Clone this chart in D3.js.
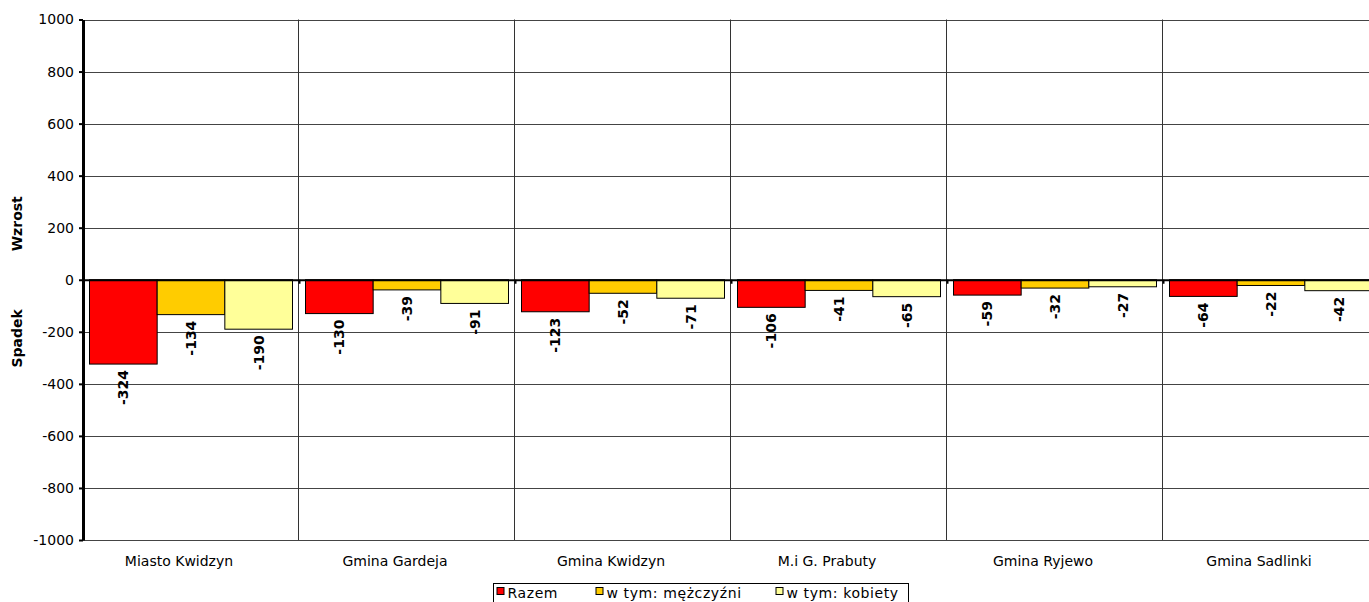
<!DOCTYPE html>
<html>
  <head>
    <meta charset="utf-8" />
    <title>Wzrost / Spadek</title>
    <style>
      body { margin: 0; background: #fff; overflow: hidden; }
      text { font-family: Verdana, "DejaVu Sans", sans-serif; }
      .tick text { font-size: 14px; fill: #000; }
    </style>
  </head>
  <body>
    <div id="chart"></div>

    <script src="https://d3js.org/d3.v7.min.js"></script>
    <script>
      // data
      var categories = ["Miasto Kwidzyn", "Gmina Gardeja", "Gmina Kwidzyn", "M.i G. Prabuty", "Gmina Ryjewo", "Gmina Sadlinki"];
      var seriesNames = ["Razem", "w tym: mężczyźni", "w tym: kobiety"];
      var razem = [-324, -130, -123, -106, -59, -64];
      var mezczyzni = [-134, -39, -52, -41, -32, -22];
      var kobiety = [-190, -91, -71, -65, -27, -42];
      var yTicks = [-1000, -800, -600, -400, -200, 0, 200, 400, 600, 800, 1000];
      var colors = ["#ff0000", "#ffcc00", "#ffff99"];

      var seriesValues = [razem, mezczyzni, kobiety];

      var width = 1369, height = 602;
      var plotLeft = 83, plotTop = 19.5, plotBottom = 540;
      var groupW = 216;

      var svg = d3.select("#chart").append("svg")
        .attr("width", width)
        .attr("height", height);

      var x = d3.scaleBand()
        .domain(categories)
        .range([plotLeft, plotLeft + groupW * categories.length]);

      var x1 = d3.scaleBand()
        .domain(seriesNames)
        .range([6.5, groupW - 6.5]);

      var y = d3.scaleLinear()
        .domain([-1000, 1000])
        .range([plotBottom, plotTop]);

      // horizontal gridlines
      svg.append("g")
        .selectAll("line")
        .data(yTicks)
        .enter()
        .append("line")
        .attr("x1", plotLeft)
        .attr("x2", width)
        .attr("y1", d => Math.round(y(d)) + 0.5)
        .attr("y2", d => Math.round(y(d)) + 0.5)
        .attr("stroke", "#444")
        .attr("stroke-width", 1);

      // vertical gridlines between categories
      svg.append("g")
        .selectAll("line")
        .data(categories.slice(1))
        .enter()
        .append("line")
        .attr("x1", d => Math.round(x(d)) - 0.5)
        .attr("x2", d => Math.round(x(d)) - 0.5)
        .attr("y1", y(1000))
        .attr("y2", y(-1000))
        .attr("stroke", "#333")
        .attr("stroke-width", 1);

      // bars
      var groups = svg.append("g")
        .selectAll("g")
        .data(seriesNames)
        .enter()
        .append("g")
        .attr("fill", (d, i) => colors[i]);

      groups.selectAll("rect")
        .data((s, i) => seriesValues[i].map((v, j) => ({ s: s, cat: categories[j], v: v })))
        .enter()
        .append("rect")
        .attr("x", d => x(d.cat) + x1(d.s))
        .attr("y", d => y(Math.max(0, d.v)))
        .attr("width", x1.bandwidth())
        .attr("height", d => Math.abs(y(d.v) - y(0)))
        .attr("stroke", "#000")
        .attr("stroke-width", 1);

      // value labels, rotated
      groups.selectAll("text")
        .data((s, i) => seriesValues[i].map((v, j) => ({ s: s, cat: categories[j], v: v })))
        .enter()
        .append("text")
        .attr("transform", d => "translate(" + (x(d.cat) + x1(d.s) + x1.bandwidth() / 2 + 5) + "," + (y(d.v) + 6) + ") rotate(-90)")
        .attr("text-anchor", "end")
        .attr("fill", "#000")
        .style("font-size", "14px")
        .style("font-weight", "bold")
        .text(d => d.v);

      // zero axis with ticks at category boundaries
      var zeroAxis = svg.append("g")
        .attr("transform", "translate(0," + y(0) + ")")
        .call(d3.axisBottom(d3.scaleLinear().domain([0, categories.length]).range([plotLeft, plotLeft + groupW * categories.length]))
          .tickValues(d3.range(categories.length + 1))
          .tickSize(4)
          .tickFormat(""));
      zeroAxis.select(".domain").attr("stroke", "#000").attr("stroke-width", 2);
      zeroAxis.selectAll(".tick line").attr("stroke", "#000").attr("stroke-width", 2);

      // y axis
      var yAxis = svg.append("g")
        .attr("transform", "translate(" + plotLeft + ",0)")
        .call(d3.axisLeft(y).tickValues(yTicks).tickSize(4).tickPadding(5).tickSizeOuter(0)
          .tickFormat(d => String(d)));
      yAxis.select(".domain").attr("stroke", "#000").attr("stroke-width", 3);
      yAxis.selectAll(".tick line").attr("stroke", "#000").attr("stroke-width", 2);

      // category labels
      svg.append("g")
        .selectAll("text")
        .data(categories)
        .enter()
        .append("text")
        .attr("x", d => x(d) + x.bandwidth() / 2 - 12)
        .attr("y", 566)
        .attr("text-anchor", "middle")
        .style("font-size", "14px")
        .text(d => d);

      // axis titles
      svg.append("text")
        .attr("transform", "translate(22," + y(215) + ") rotate(-90)")
        .attr("text-anchor", "middle")
        .style("font-size", "14px")
        .style("font-weight", "bold")
        .text("Wzrost");
      svg.append("text")
        .attr("transform", "translate(22," + y(-225) + ") rotate(-90)")
        .attr("text-anchor", "middle")
        .style("font-size", "14px")
        .style("font-weight", "bold")
        .text("Spadek");

      // legend
      var legend = svg.append("g").attr("transform", "translate(493.5,583.5)");
      legend.append("rect")
        .attr("width", 415)
        .attr("height", 30)
        .attr("fill", "#fff")
        .attr("stroke", "#000");
      var legendX = [3, 102, 282];
      var item = legend.selectAll("g.item")
        .data(seriesNames)
        .enter()
        .append("g")
        .attr("class", "item")
        .attr("transform", (d, i) => "translate(" + legendX[i] + ",0)");
      item.append("rect")
        .attr("x", 0.5)
        .attr("y", 4)
        .attr("width", 7)
        .attr("height", 7)
        .attr("fill", (d, i) => colors[i])
        .attr("stroke", "#000");
      item.append("text")
        .attr("x", 11)
        .attr("y", 14)
        .style("font-size", "14px")
        .style("letter-spacing", "0.6px")
        .text(d => d);
    </script>
  </body>
</html>
